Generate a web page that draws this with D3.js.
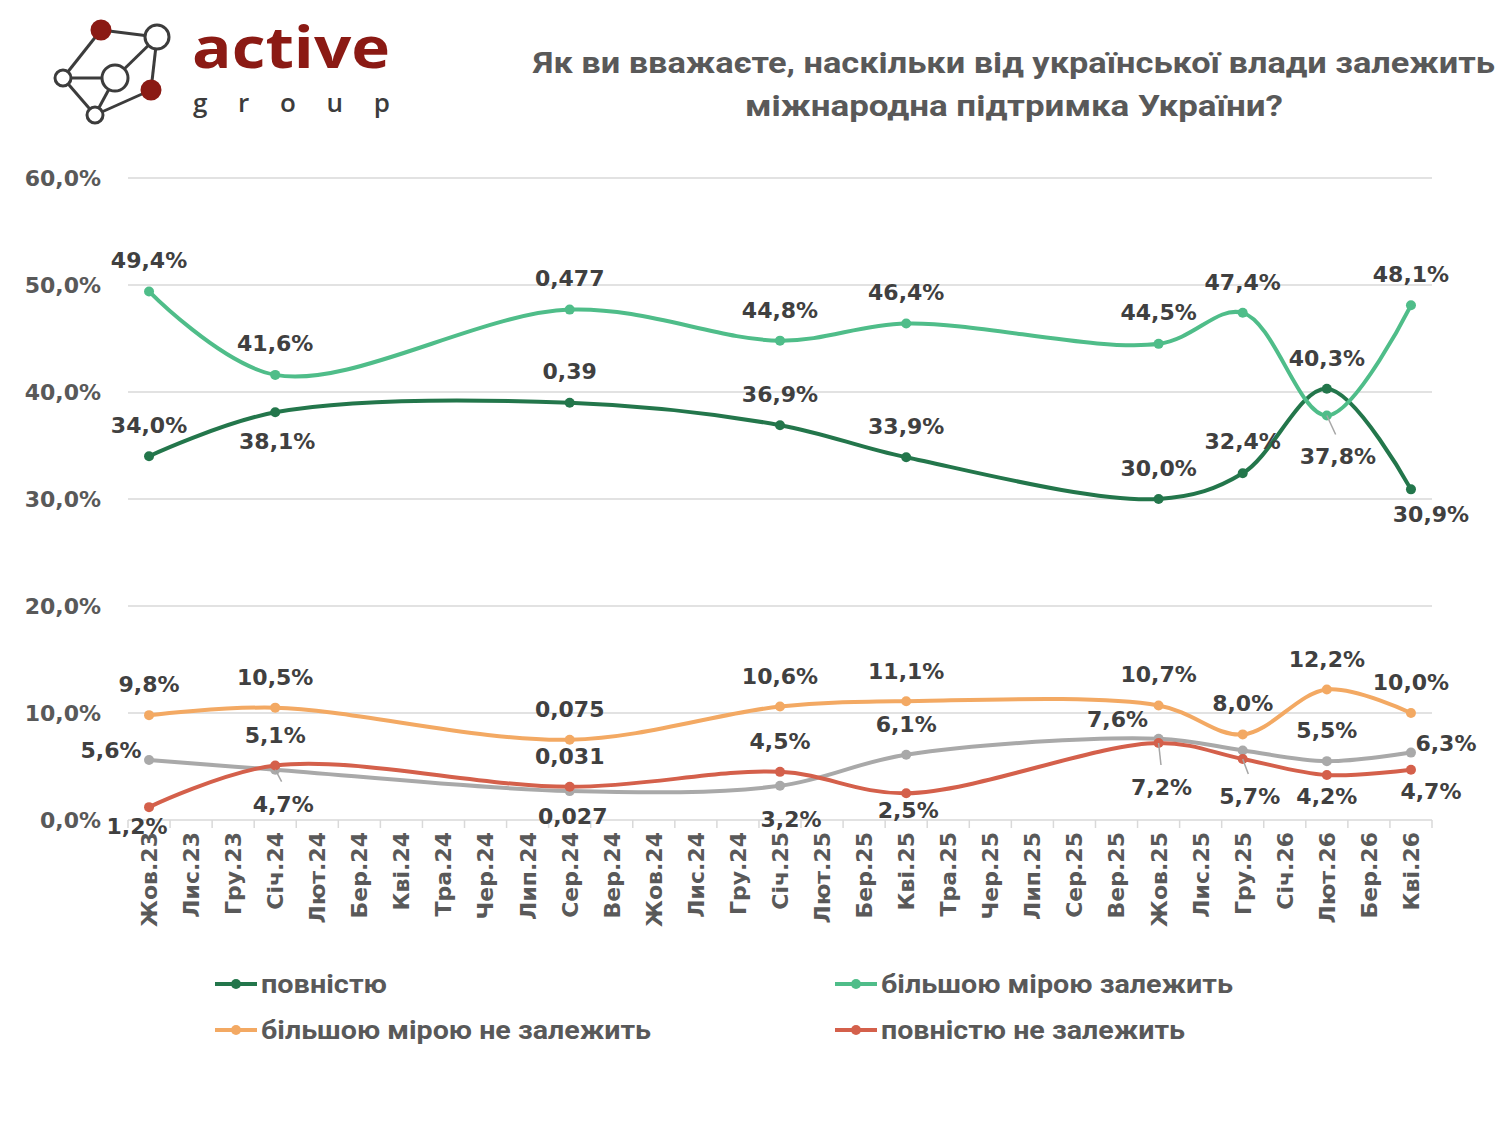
<!DOCTYPE html>
<html>
<head>
<meta charset="utf-8">
<script src="https://cdn.jsdelivr.net/npm/d3@7"></script>
<style>
  body { margin: 0; background: #fff; }
  svg { display: block; }
</style>
</head>
<body>
<div id="chart"></div>
<script>
// місяці осі X
const months = ["Жов.23","Лис.23","Гру.23","Січ.24","Лют.24","Бер.24","Кві.24","Тра.24","Чер.24","Лип.24","Сер.24","Вер.24","Жов.24","Лис.24","Гру.24","Січ.25","Лют.25","Бер.25","Кві.25","Тра.25","Чер.25","Лип.25","Сер.25","Вер.25","Жов.25","Лис.25","Гру.25","Січ.26","Лют.26","Бер.26","Кві.26"];
// хвилі опитування
const waves = ["Жов.23","Січ.24","Сер.24","Січ.25","Кві.25","Жов.25","Гру.25","Лют.26","Кві.26"];

const fully        = [34.0, 38.1, 39.0, 36.9, 33.9, 30.0, 32.4, 40.3, 30.9];
const mostlyDep    = [49.4, 41.6, 47.7, 44.8, 46.4, 44.5, 47.4, 37.8, 48.1];
const mostlyNotDep = [9.8, 10.5, 7.5, 10.6, 11.1, 10.7, 8.0, 12.2, 10.0];
const fullyNotDep  = [1.2, 5.1, 3.1, 4.5, 2.5, 7.2, 5.7, 4.2, 4.7];
const hardToSay    = [5.6, 4.7, 2.7, 3.2, 6.1, 7.6, 6.5, 5.5, 6.3];

const yTicks = [0, 10, 20, 30, 40, 50, 60];
// у хвилі Сер.24 підписи показані як частки
const rawWave = "Сер.24";

const series = [
  { name: "повністю", values: fully, color: "#23764b", legend: true,
    off: [[0,-31],[2,29],[0,-32],[0,-31],[0,-31],[0,-31],[0,-32],[0,-31],[20,25]], lead: [] },
  { name: "більшою мірою залежить", values: mostlyDep, color: "#4fbd89", legend: true,
    off: [[0,-31],[0,-32],[0,-32],[0,-31],[0,-31],[0,-32],[0,-31],[11,41],[0,-31]], lead: [7] },
  { name: "більшою мірою не залежить", values: mostlyNotDep, color: "#f3a963", legend: true,
    off: [[0,-31],[0,-31],[0,-31],[0,-31],[0,-30],[0,-31],[0,-31],[0,-30],[0,-31]], lead: [] },
  { name: "повністю не залежить", values: fullyNotDep, color: "#d4604b", legend: true,
    off: [[-12,19],[0,-30],[0,-31],[0,-31],[2,17],[3,44],[7,37],[0,21],[20,21]], lead: [5,6] },
  { name: "важко відповісти", values: hardToSay, color: "#a9a9a9", legend: false,
    off: [[-38,-10],[8,34],[3,25],[11,33],[0,-31],[-41,-20],null,[0,-31],[35,-10]], lead: [1] }
];

const W = 1500, H = 1125;
const margin = { left: 128, right: 68, top: 178, bottom: 305 };
const font = "'DejaVu Sans', Verdana, sans-serif";

const svg = d3.select("#chart").append("svg")
  .attr("width", W).attr("height", H)
  .style("font-family", font);

// ---- логотип ----
const logo = svg.append("g");
const nodes = [[101,30,9,true],[157,37,12,false],[63,78,8,false],[115,78,13,false],[151,90,9,true],[95,115,8,false]];
const edges = [[0,1],[0,2],[1,3],[1,4],[2,3],[2,5],[3,5],[5,4]];
logo.selectAll("line").data(edges).join("line")
  .attr("x1", d => nodes[d[0]][0]).attr("y1", d => nodes[d[0]][1])
  .attr("x2", d => nodes[d[1]][0]).attr("y2", d => nodes[d[1]][1])
  .attr("stroke", "#3c3c3c").attr("stroke-width", 3);
logo.selectAll("circle").data(nodes).join("circle")
  .attr("cx", d => d[0]).attr("cy", d => d[1]).attr("r", d => d[2])
  .attr("fill", d => d[3] ? "#8b1a14" : "#fff")
  .attr("stroke", d => d[3] ? "#8b1a14" : "#3c3c3c").attr("stroke-width", 3);
logo.append("text").attr("x", 192).attr("y", 68)
  .attr("textLength", 198).attr("lengthAdjust", "spacingAndGlyphs")
  .style("font-family", "'Open Sans', sans-serif").style("font-weight", 700)
  .style("font-size", "57px").attr("fill", "#8b1a14").text("active");
logo.append("text").attr("x", 193).attr("y", 112)
  .attr("textLength", 197).attr("lengthAdjust", "spacing")
  .style("font-family", "'Open Sans', sans-serif").style("font-weight", 600)
  .style("font-size", "26px").attr("fill", "#3c3c3c").text("group");

// ---- заголовок ----
const title = svg.append("g").style("font-family", "Roboto, sans-serif")
  .style("font-weight", 700).style("font-size", "29px").attr("fill", "#595959");
title.append("text").attr("x", 533).attr("y", 73)
  .attr("textLength", 962).attr("lengthAdjust", "spacingAndGlyphs")
  .text("Як ви вважаєте, наскільки від української влади залежить");
title.append("text").attr("x", 745).attr("y", 116)
  .attr("textLength", 538).attr("lengthAdjust", "spacingAndGlyphs")
  .text("міжнародна підтримка України?");

// ---- шкали ----
const x = d3.scaleBand().domain(months).range([margin.left, W - margin.right]);
const y = d3.scaleLinear().domain([0, 60]).range([H - margin.bottom, margin.top]);
const cx = m => x(m) + x.bandwidth() / 2;

// сітка
svg.append("g").selectAll("line").data(yTicks.filter(t => t > 0)).join("line")
  .attr("x1", margin.left).attr("x2", W - margin.right)
  .attr("y1", d => y(d)).attr("y2", d => y(d))
  .attr("stroke", "#d9d9d9").attr("stroke-width", 1.5);

// вісь Y
svg.append("g").selectAll("text").data(yTicks).join("text")
  .attr("x", 101).attr("y", d => y(d)).attr("dy", "0.35em")
  .attr("text-anchor", "end").attr("fill", "#595959")
  .style("font-weight", 700).style("font-size", "22px")
  .text(d => d3.format(".1f")(d).replace(".", ",") + "%");

// вісь X
const xAxis = svg.append("g").attr("transform", `translate(0,${y(0)})`);
xAxis.append("line").attr("x1", margin.left).attr("x2", W - margin.right)
  .attr("stroke", "#d9d9d9").attr("stroke-width", 1.5);
xAxis.selectAll("line.tick").data(months.concat(["end"])).join("line")
  .attr("class", "tick")
  .attr("x1", (d, i) => margin.left + i * x.bandwidth())
  .attr("x2", (d, i) => margin.left + i * x.bandwidth())
  .attr("y1", 0).attr("y2", 8).attr("stroke", "#d9d9d9").attr("stroke-width", 1.5);
xAxis.selectAll("text").data(months).join("text")
  .attr("transform", d => `translate(${cx(d)},12) rotate(-90)`)
  .attr("text-anchor", "end").attr("dy", "0.36em")
  .attr("fill", "#595959").style("font-weight", 700).style("font-size", "22px")
  .text(d => d);

// ---- лінії ----
const line = d3.line()
  .x((d, i) => cx(waves[i]))
  .y(d => y(d))
  .curve(d3.curveCatmullRom.alpha(0.5));

const order = [4, 3, 2, 0, 1];
const gLines = svg.append("g");
order.forEach(si => {
  const s = series[si];
  const g = gLines.append("g");
  g.append("path").datum(s.values).attr("d", line)
    .attr("fill", "none").attr("stroke", s.color).attr("stroke-width", 4)
    .attr("stroke-linecap", "round");
  g.selectAll("circle").data(s.values).join("circle")
    .attr("cx", (d, i) => cx(waves[i])).attr("cy", d => y(d)).attr("r", 5)
    .attr("fill", s.color);
});

// ---- підписи ----
const fmtPct = v => d3.format(".1f")(v).replace(".", ",") + "%";
const fmtRaw = v => String(+(v / 100).toFixed(3)).replace(".", ",");
const gLabels = svg.append("g");
series.forEach(s => {
  s.values.forEach((v, i) => {
    const o = s.off[i];
    if (!o) return;
    const px = cx(waves[i]), py = y(v);
    if (s.lead.includes(i)) {
      gLabels.append("line")
        .attr("x1", px).attr("y1", py)
        .attr("x2", px + o[0] * 0.8).attr("y2", py + o[1] - 22)
        .attr("stroke", "#a6a6a6").attr("stroke-width", 1.5);
    }
    gLabels.append("text")
      .attr("x", px + o[0]).attr("y", py + o[1]).attr("dy", "0.36em")
      .attr("text-anchor", "middle").attr("fill", "#404040")
      .style("font-weight", 700).style("font-size", "22px")
      .text(waves[i] === rawWave ? fmtRaw(v) : fmtPct(v));
  });
});

// ---- легенда ----
const legendItems = series.filter(s => s.legend);
const legendPos = [[215, 984, 126], [835, 984, 352], [215, 1030, 390], [835, 1030, 304]];
const gLeg = svg.append("g");
legendItems.forEach((s, i) => {
  const [lx, ly, tw] = legendPos[i];
  gLeg.append("line").attr("x1", lx).attr("x2", lx + 42).attr("y1", ly).attr("y2", ly)
    .attr("stroke", s.color).attr("stroke-width", 4);
  gLeg.append("circle").attr("cx", lx + 21).attr("cy", ly).attr("r", 5).attr("fill", s.color);
  gLeg.append("text").attr("x", lx + 46).attr("y", ly).attr("dy", "0.35em")
    .attr("textLength", tw).attr("lengthAdjust", "spacingAndGlyphs")
    .style("font-family", "Roboto, sans-serif").style("font-weight", 700)
    .style("font-size", "25px").attr("fill", "#595959").text(s.name);
});
</script>
</body>
</html>
